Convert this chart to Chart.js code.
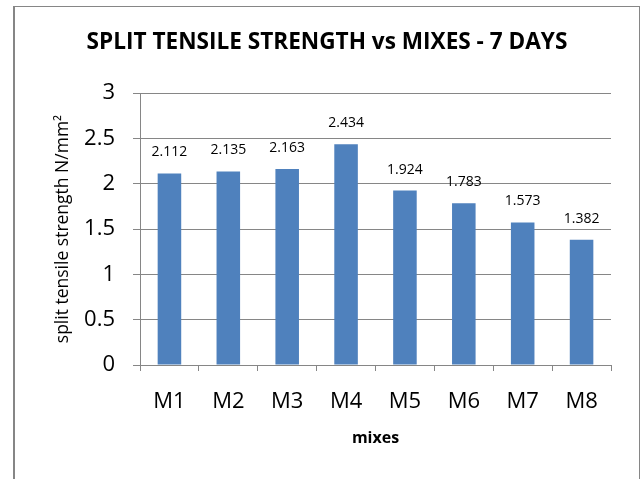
<!DOCTYPE html>
<html>
<head>
<meta charset="utf-8">
<script src="https://cdn.jsdelivr.net/npm/chart.js@4.4.1/dist/chart.umd.min.js"></script>
<style>
  html, body { margin: 0; padding: 0; background: #fff; overflow: hidden; }
  #frame {
    position: absolute; left: 13px; top: 6px; width: 627px; height: 520px;
    box-sizing: border-box; border: 1px solid #868686; border-left-width: 2px; border-bottom: none;
  }
  #chart { position: absolute; left: 0; top: 0; }
</style>
</head>
<body>
<div id="frame"></div>
<canvas id="chart" width="644" height="479"></canvas>
<script>
// veriler
const mixes = ['M1', 'M2', 'M3', 'M4', 'M5', 'M6', 'M7', 'M8'];
const strength7d = [2.112, 2.135, 2.163, 2.434, 1.924, 1.783, 1.573, 1.382];
const yTickValues = [0, 0.5, 1, 1.5, 2, 2.5, 3];

const chartTitle = 'SPLIT TENSILE STRENGTH vs MIXES - 7 DAYS';
const FONT = '"Open Sans", "Noto Sans", sans-serif';
const gridColor = '#868686';

// Başlık ve değer etiketleri
const labelPlugin = {
    id: 'labels',
    afterDatasetsDraw(chart) {
        const ctx = chart.ctx;
        ctx.save();
        ctx.fillStyle = '#000';
        ctx.textAlign = 'center';
        ctx.textBaseline = 'middle';
        ctx.font = '14px ' + FONT;
        chart.getDatasetMeta(0).data.forEach((bar, i) => {
            ctx.fillText(strength7d[i].toFixed(3), bar.x, bar.y - 21);
        });
        ctx.font = 'bold 22.6px ' + FONT;
        ctx.fillText(chartTitle, 327, 43);
        ctx.restore();
    }
};

new Chart(document.getElementById('chart'), {
    type: 'bar',
    data: {
        labels: mixes,
        datasets: [{
            data: strength7d,
            backgroundColor: '#4F81BD',
            borderWidth: 0,
            categoryPercentage: 1,
            barPercentage: 0.4
        }]
    },
    options: {
        responsive: false,
        devicePixelRatio: 1,
        animation: false,
        layout: { padding: { left: 0, top: 93, right: 33, bottom: 0 } },
        plugins: { legend: { display: false }, tooltip: { enabled: false }, title: { display: false } },
        scales: {
            x: {
                afterFit: s => { s.height = 114; },
                grid: { drawOnChartArea: false, offset: true, tickLength: 6, color: gridColor },
                border: { color: gridColor },
                ticks: { color: '#000', padding: 18, font: { family: FONT, size: 22 } },
                title: { display: true, text: 'mixes', color: '#000', padding: { top: 0, bottom: 31 }, font: { family: FONT, size: 16, weight: 'bold' } }
            },
            y: {
                min: 0, max: 3,
                afterFit: s => { s.width = 140; },
                afterBuildTicks: s => { s.ticks = yTickValues.map(v => ({ value: v })); },
                grid: { color: gridColor, tickLength: 7 },
                border: { color: gridColor },
                ticks: { color: '#000', padding: 18, font: { family: FONT, size: 22 }, callback: v => String(v) },
                title: { display: true, text: 'split tensile strength N/mm²', color: '#000', padding: { top: 53, bottom: 0 }, font: { family: FONT, size: 17.5 } }
            }
        }
    },
    plugins: [labelPlugin]
});
</script>
</body>
</html>
